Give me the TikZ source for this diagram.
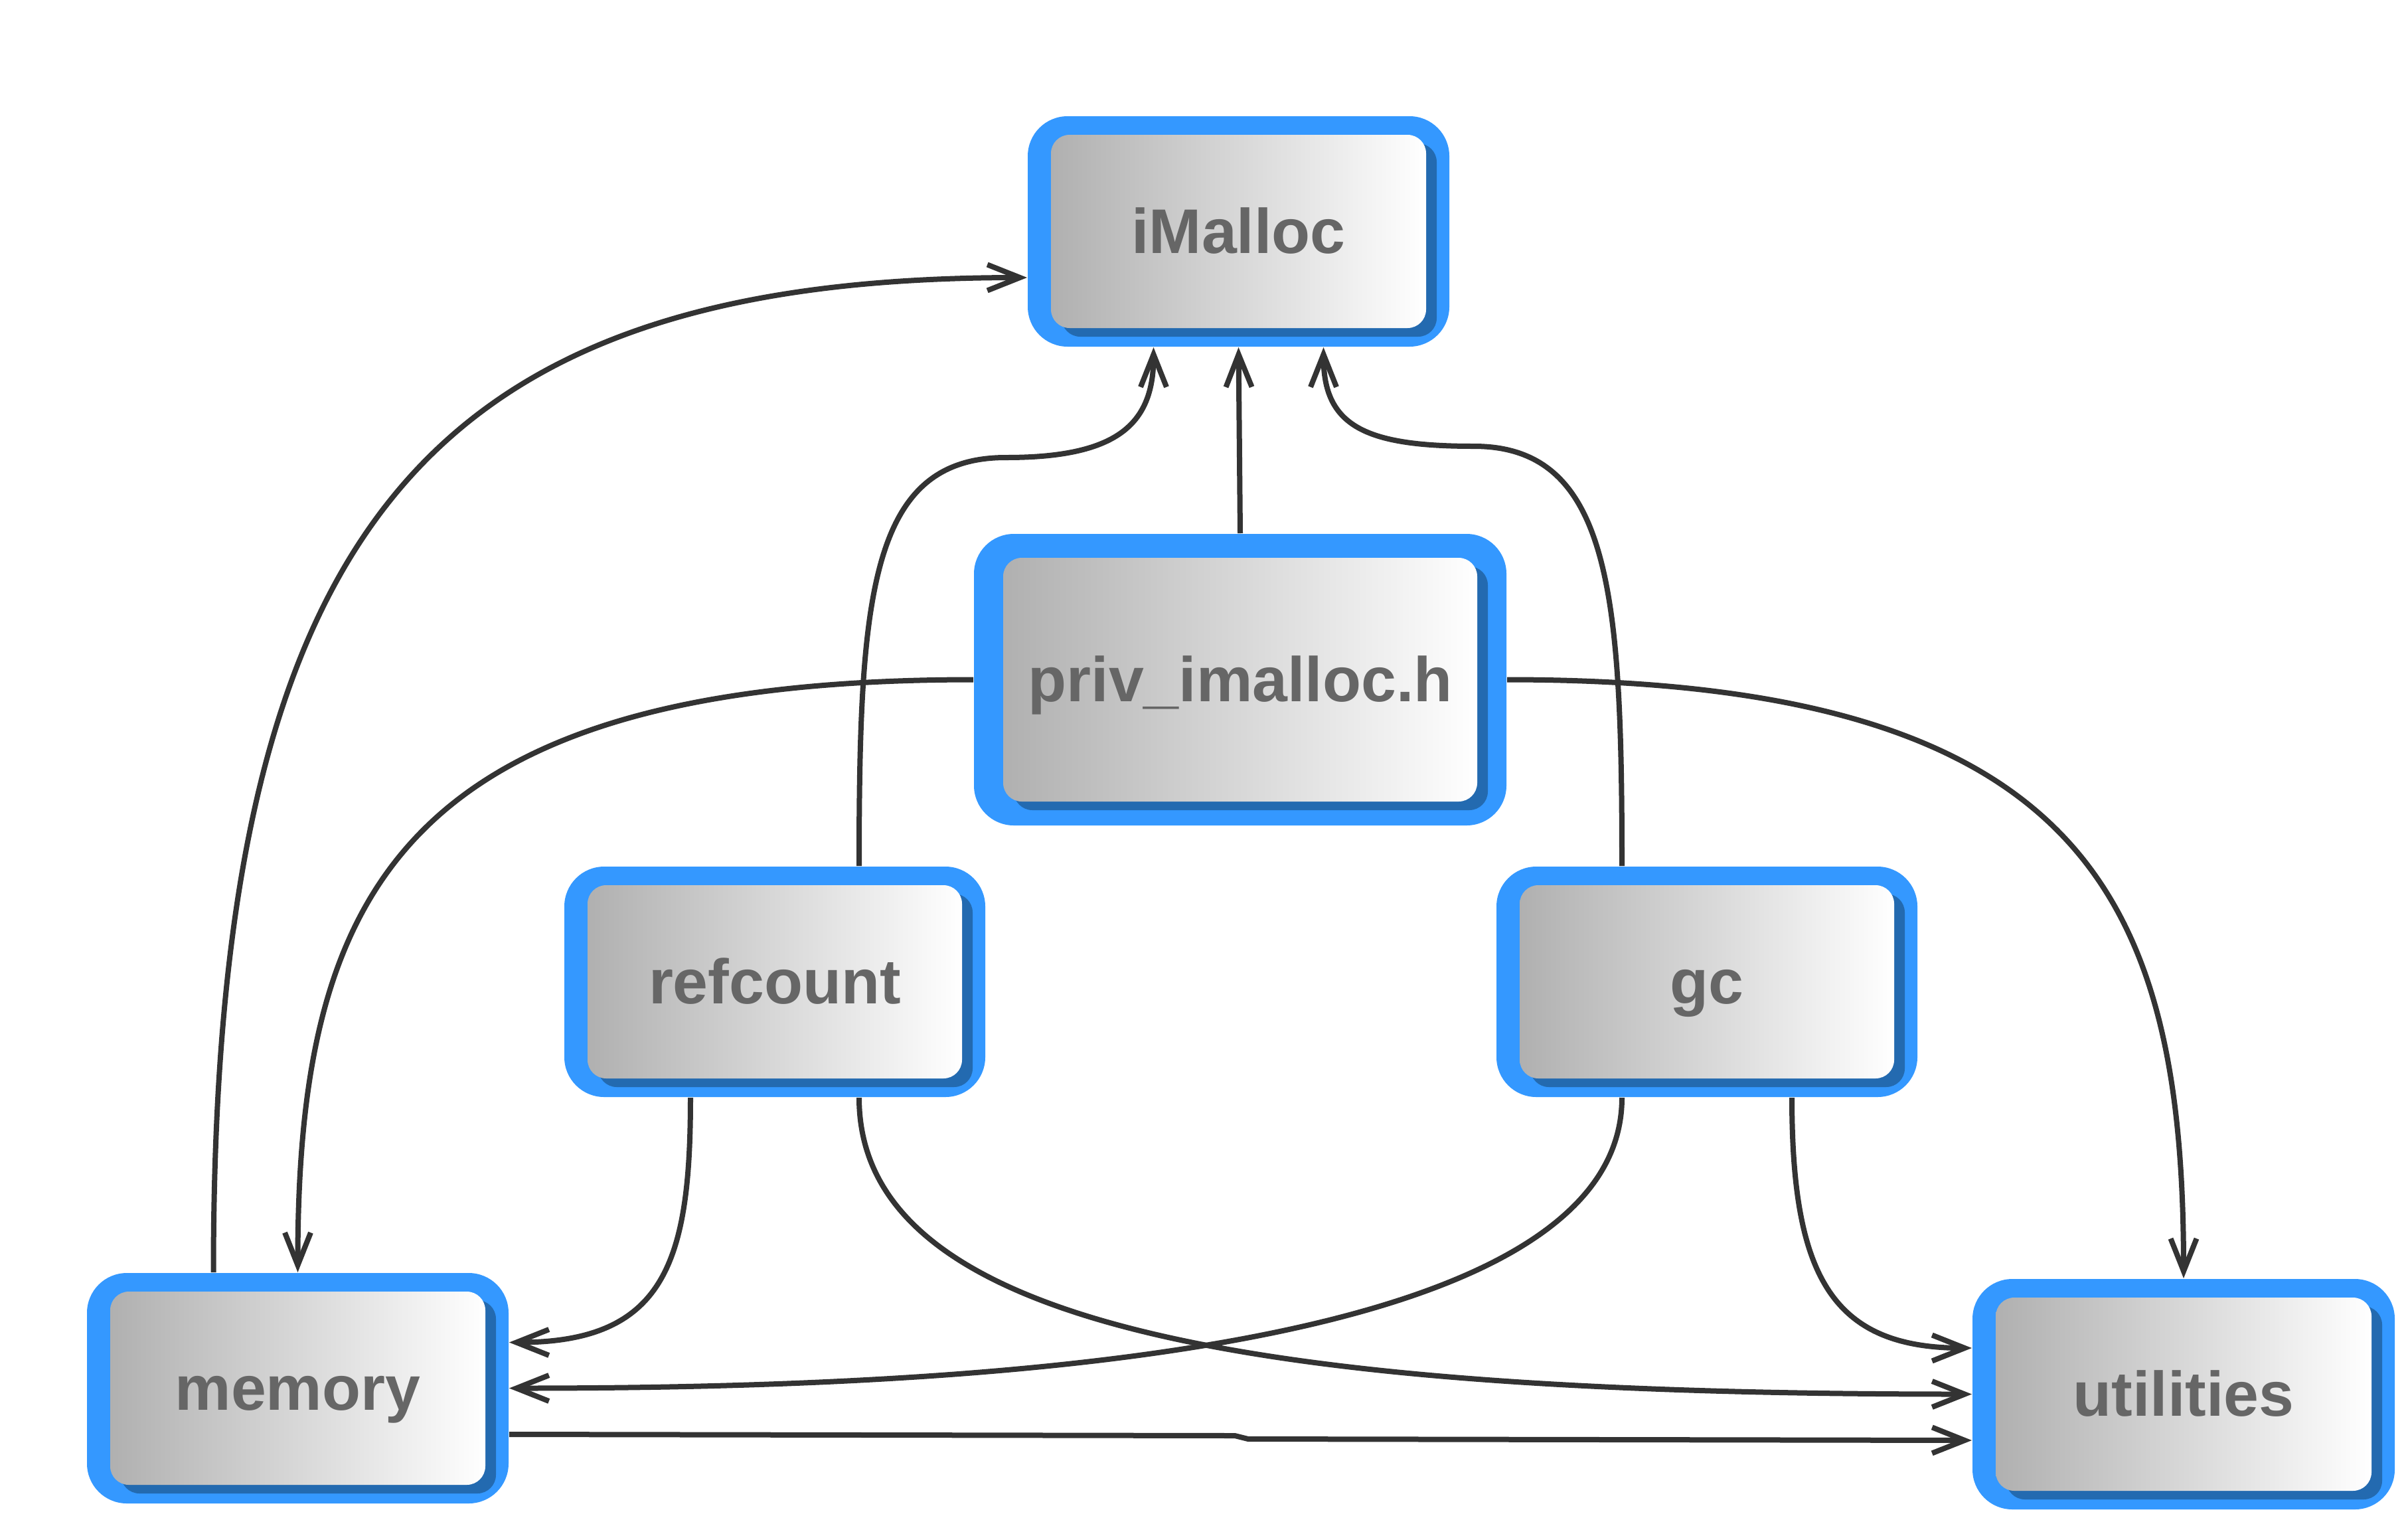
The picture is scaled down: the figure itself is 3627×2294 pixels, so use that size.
\documentclass[tikz,border=0pt]{standalone}
\usepackage{fontspec}
\setmainfont{Liberation Sans}
\usetikzlibrary{arrows.meta,calc}
\definecolor{outerblue}{RGB}{52,152,255}
\definecolor{shadowblue}{RGB}{35,106,176}
\definecolor{lgray}{RGB}{176,176,176}
\definecolor{txtgray}{RGB}{102,102,102}
\definecolor{linegray}{RGB}{51,51,51}
\tikzset{
  boxnode/.style={inner sep=0pt, text height=13.2pt, text depth=0pt,
    font=\fontsize{19pt}{19pt}\selectfont\bfseries, text=txtgray},
  dep/.style={draw=linegray, line width=1.6pt,
    -{Straight Barb[length=9.8pt,width=7.8pt]}},
  plain/.style={draw=linegray, line width=1.6pt}
}
\newcommand\drawbox[6]{%
  \fill[outerblue, rounded corners=12pt] (#1,#2) rectangle (#3,#4);
  \fill[shadowblue, rounded corners=5.6pt] ({#1+#5+16},{#2+#6+13}) rectangle ({#3-#5+16},{#4-#6+13});
  \shade[left color=lgray, right color=white, rounded corners=5.6pt] ({#1+#5},{#2+#6}) rectangle ({#3-#5},{#4-#6});
}
\begin{document}
\begin{tikzpicture}[x=0.2pt,y=-0.2pt]
\fill[white] (0,0) rectangle (3627,2294);
\useasboundingbox (0,0) rectangle (3627,2294);

% boxes
\drawbox{1548}{175}{2183}{522}{35}{28}
\node[boxnode, minimum width=127pt, minimum height=69.4pt] (imalloc) at (1865.5,348.5) {iMalloc};

\drawbox{1467}{804}{2269}{1243}{44}{36}
\node[boxnode, minimum width=160.4pt, minimum height=87.8pt] (priv) at (1868,1023.5) {priv\_imalloc.h};

\drawbox{850}{1305}{1484}{1652}{35}{28}
\node[boxnode, minimum width=126.8pt, minimum height=69.4pt] (refcount) at (1167,1478.5) {refcount};

\drawbox{2254}{1305}{2888}{1652}{35}{28}
\node[boxnode, minimum width=126.8pt, minimum height=69.4pt] (gc) at (2571,1478.5) {gc};

\drawbox{131}{1917}{766}{2264}{35}{28}
\node[boxnode, minimum width=127pt, minimum height=69.4pt] (memory) at (448.5,2090.5) {memory};

\drawbox{2971}{1926}{3607}{2273}{35}{28}
\node[boxnode, minimum width=127.2pt, minimum height=69.4pt] (utilities) at (3289,2099.5) {utilities};

% connectors
\draw[dep] ($(memory.north)+(-127,0)$) .. controls +(0,-1117) and +(-908,0) .. ($(imalloc.west)+(0,69.5)$);
\draw[dep] ($(refcount.north)+(127,0)$) .. controls +(0,-405) and +(-205,0) .. (1515,689)
  .. controls +(165,0) and +(0,118) .. ($(imalloc.south)+(-128,0)$);
\draw[dep] (priv.north) -- (imalloc.south);
\draw[dep] ($(gc.north)+(-128,0)$) .. controls +(0,-405) and +(207,0) .. (2220,672)
  .. controls +(-165,0) and +(0,118) .. ($(imalloc.south)+(128,0)$);
\draw[dep] (priv.west) .. controls +(-867,0) and +(0,-567) .. (memory.north);
\draw[dep] (priv.east) .. controls +(867,0) and +(0,-576) .. (utilities.north);
\draw[dep] ($(refcount.south)+(-127,0)$) .. controls +(0,248) and +(234,0) .. ($(memory.east)+(0,-69)$);
\draw[dep] ($(refcount.south)+(127,0)$) .. controls +(0,348) and +(-1071,0) .. (utilities.west);
\draw[dep] ($(gc.south)+(-128,0)$) .. controls +(0,398) and +(634,0) .. (memory.east);
\draw[dep] ($(gc.south)+(128,0)$) .. controls +(0,268) and +(-211,0) .. ($(utilities.west)+(0,-69.5)$);
\draw[dep] ($(memory.east)+(0,69.5)$) -- (1860,2162) -- (1880,2167) -- ($(utilities.west)+(0,69.5)$);
\end{tikzpicture}
\end{document}
